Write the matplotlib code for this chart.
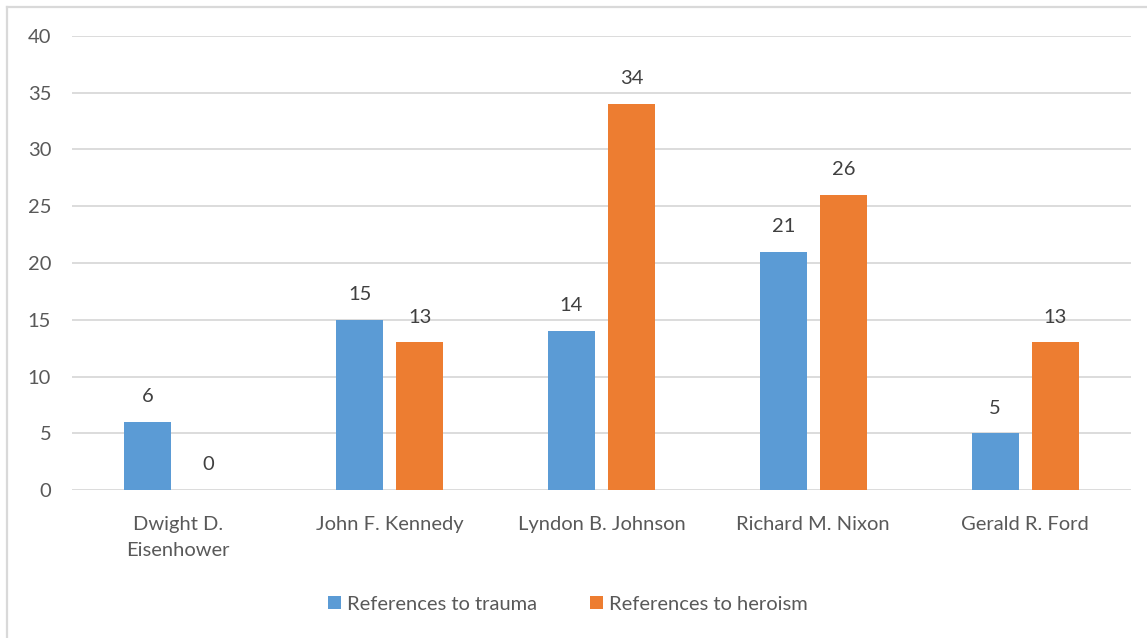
import matplotlib.pyplot as plt
from matplotlib.lines import Line2D
import numpy as np

presidents = ['Dwight D.\nEisenhower', 'John F. Kennedy', 'Lyndon B. Johnson',
              'Richard M. Nixon', 'Gerald R. Ford']
trauma = [6, 15, 14, 21, 5]
heroism = [0, 13, 34, 26, 13]

BLUE = '#5B9BD5'
ORANGE = '#ED7D31'
TEXT = '#595959'
GRID = '#D9D9D9'
FS = 14.5

plt.rcParams['font.family'] = ['Lato', 'DejaVu Sans']

W, H = 1147, 638
fig = plt.figure(figsize=(W / 100, H / 100), dpi=100)
ax = fig.add_axes([72 / W, (H - 490) / H, (1131 - 72) / W, (490 - 36) / H])

x = np.arange(len(presidents))
bw = 0.222
off = 0.142
b1 = ax.bar(x - off, trauma, bw, color=BLUE, label='References to trauma', zorder=3)
b2 = ax.bar(x + off, heroism, bw, color=ORANGE, label='References to heroism', zorder=3)

for bars in (b1, b2):
    ax.bar_label(bars, padding=12, fontsize=FS, color='#404040')

ax.set_xlim(-0.5, len(presidents) - 0.5)
ax.set_ylim(0, 40)
ax.set_yticks(range(0, 41, 5))
ax.set_xticks(x)
ax.set_xticklabels(presidents, fontsize=FS, color=TEXT, linespacing=1.65)
ax.tick_params(axis='y', labelsize=FS, labelcolor=TEXT, length=0, pad=15)
ax.tick_params(axis='x', length=0, pad=19)
ax.grid(axis='y', color=GRID, linewidth=1.3, zorder=0)
for s in ax.spines.values():
    s.set_visible(False)

leg = ax.legend(loc='center', bbox_to_anchor=((568 - 72) / 1059, (490 - 604) / (490 - 36)),
                ncol=2, frameon=False, fontsize=FS, handlelength=0.65,
                handleheight=0.65, handletextpad=0.3, columnspacing=2.6)
for t in leg.get_texts():
    t.set_color(TEXT)

# chart area border (left and top edges)
fig.add_artist(Line2D([7.5 / W, 7.5 / W], [0, (H - 6.5) / H], color=GRID, lw=1.6))
fig.add_artist(Line2D([7.5 / W, 1], [(H - 6.5) / H, (H - 6.5) / H], color=GRID, lw=1.6))

fig.savefig('out.png', dpi=100)
